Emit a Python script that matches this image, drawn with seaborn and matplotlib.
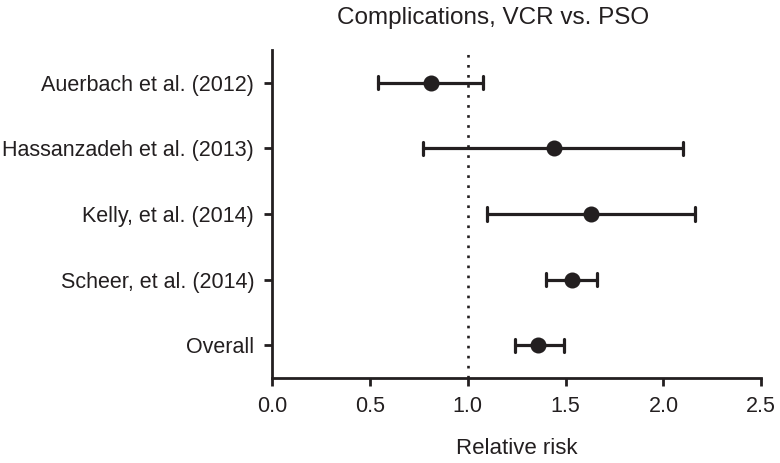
import numpy as np
import pandas as pd
import matplotlib
matplotlib.use("Agg")
import matplotlib.pyplot as plt
import seaborn as sns

# relative risk with 95% CI
studies = ["Auerbach et al. (2012)", "Hassanzadeh et al. (2013)",
           "Kelly, et al. (2014)", "Scheer, et al. (2014)", "Overall"]
rr = [0.81, 1.44, 1.63, 1.53, 1.36]
ci_low = [0.54, 0.77, 1.10, 1.40, 1.24]
ci_high = [1.08, 2.10, 2.16, 1.66, 1.49]
xticks = [0.0, 0.5, 1.0, 1.5, 2.0, 2.5]

ink = "#231f20"

sns.set_theme(style="ticks")
plt.rcParams["font.family"] = ["Liberation Sans", "DejaVu Sans"]

# long form: low / estimate / high per study -> median + full range
df = pd.DataFrame({
    "study": np.repeat(studies, 3),
    "value": np.column_stack([ci_low, rr, ci_high]).ravel(),
})

fig = plt.figure(figsize=(7.8, 4.63), dpi=100)
ax = fig.add_axes([0.349, 0.1836, 0.627, 0.7084])

ax.axvline(1.0, color=ink, lw=1.9, ls=(0, (1, 2.8)), zorder=0)

sns.pointplot(data=df, x="value", y="study", order=studies,
              estimator="median", errorbar=("pi", 100),
              linestyle="none", color=ink, capsize=0.2,
              markersize=9.5, err_kws={"linewidth": 2.3}, ax=ax)

ax.set_xlim(0, 2.5)
ax.set_ylim(len(studies) - 0.5, -0.5)
ax.set_xticks(xticks)
ax.set_xticklabels([f"{t:.1f}" for t in xticks])
ax.set_xlabel("Relative risk", fontsize=16, color=ink, labelpad=15)
ax.set_ylabel("")
ax.set_title("Complications, VCR vs. PSO", fontsize=17.5, color=ink,
             pad=19, x=0.452)

for side in ["left", "bottom"]:
    ax.spines[side].set_linewidth(2.0)
    ax.spines[side].set_color(ink)
sns.despine(ax=ax)
ax.tick_params(axis="both", width=2.0, length=6, color=ink,
               labelsize=15.5, labelcolor=ink, pad=7)

fig.savefig("out.png", dpi=100)
